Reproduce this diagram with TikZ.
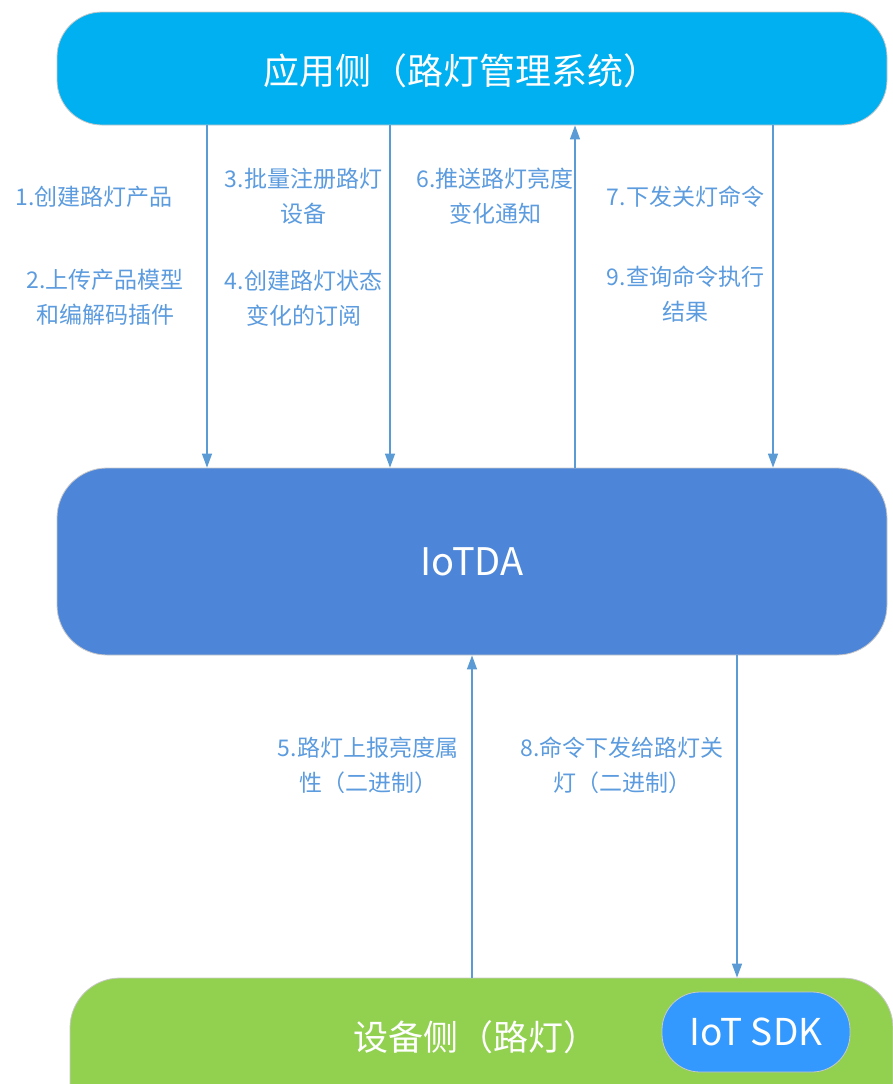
\documentclass[tikz,border=0pt]{standalone}
\usepackage{fontspec}
\setmainfont{Noto Sans CJK SC}
\usetikzlibrary{arrows.meta}
\definecolor{appblue}{HTML}{00B0F0}
\definecolor{iotblue}{HTML}{4D86D9}
\definecolor{devgreen}{HTML}{92D050}
\definecolor{sdkblue}{HTML}{3399FF}
\definecolor{linkblue}{HTML}{5B9BD5}
\definecolor{lblblue}{HTML}{5B9BDE}
\definecolor{edgegray}{HTML}{C8C8C8}
\tikzset{
  bigbox/.style={draw=edgegray, line width=0.8pt, text=white, inner sep=0pt},
  bigtxt/.style={text=white, inner sep=0pt},
  lbl/.style={text=lblblue, font=\fontsize{23}{35}\selectfont, align=center, inner sep=0pt},
  arr/.style={draw=linkblue, line width=1.4pt, -{Triangle[width=10pt,length=14pt]}}
}
\begin{document}
\begin{tikzpicture}[x=1pt,y=-1pt]
\useasboundingbox (0,0) rectangle (893,1084);
\clip (0,0) rectangle (893,1084);
% boxes
\node[bigbox, fill=appblue, rounded corners=45pt, minimum width=830pt, minimum height=113pt] (app) at (472,68.5) {};
\node[bigtxt, font=\fontsize{36}{40}\selectfont] (apptxt) at (461,71) {应用侧（路灯管理系统）};
\node[bigbox, fill=iotblue, rounded corners=50pt, minimum width=830pt, minimum height=187pt, font=\fontsize{38}{42}\selectfont] (iot) at (472,561.5) {IoTDA};
\node[bigbox, fill=devgreen, rounded corners=50pt, minimum width=823pt, minimum height=160pt] (dev) at (481.5,1058) {};
\node[bigtxt, font=\fontsize{35}{40}\selectfont] (devtxt) at (476,1037) {设备侧（路灯）};
\node[draw=edgegray, line width=0.8pt, fill=sdkblue, text=white, rounded corners=38pt, minimum width=188pt, minimum height=80pt, inner sep=0pt, font=\fontsize{37}{40}\selectfont] (sdk) at (756,1032) {IoT SDK};
% connector x positions
\coordinate (c1) at (207,0);
\coordinate (c3) at (390,0);
\coordinate (c6) at (575,0);
\coordinate (c7) at (773,0);
\coordinate (c5) at (472,0);
\coordinate (c8) at (737,0);
\draw[arr] (app.south -| c1) -- (iot.north -| c1);
\draw[arr] (app.south -| c3) -- (iot.north -| c3);
\draw[arr] (iot.north -| c6) -- (app.south -| c6);
\draw[arr] (app.south -| c7) -- (iot.north -| c7);
\draw[arr] (dev.north -| c5) -- (iot.south -| c5);
\draw[arr] (iot.south -| c8) -- (dev.north -| c8);
% labels
\node[lbl] (l1) at (94,197) {1.创建路灯产品};
\node[lbl] (l2) at (105,297) {2.上传产品模型\\和编解码插件};
\node[lbl] (l3) at (303.5,196) {3.批量注册路灯\\设备};
\node[lbl] (l4) at (303.5,298) {4.创建路灯状态\\变化的订阅};
\node[lbl] (l6) at (495,196) {6.推送路灯亮度\\变化通知};
\node[lbl] (l7) at (685.5,197) {7.下发关灯命令};
\node[lbl] (l9) at (685.5,294) {9.查询命令执行\\结果};
\node[lbl] (l5) at (368,765) {5.路灯上报亮度属\\性（二进制）};
\node[lbl] (l8) at (622,765) {8.命令下发给路灯关\\灯（二进制）};
\end{tikzpicture}
\end{document}
